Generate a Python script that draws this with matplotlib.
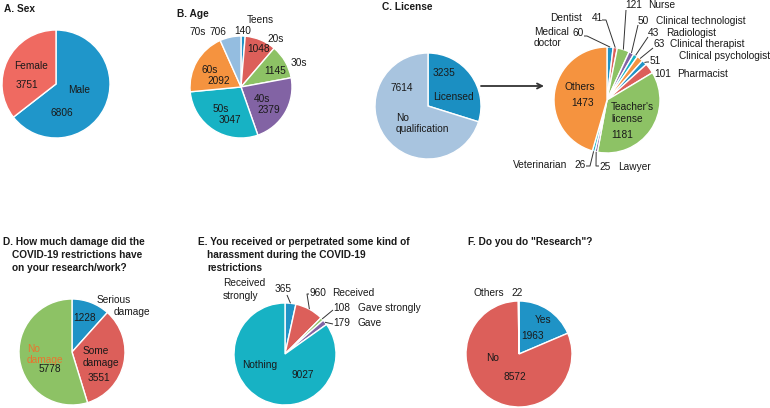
import numpy as np
import matplotlib.pyplot as plt

plt.rcParams['font.family'] = ['Liberation Sans', 'DejaVu Sans']
plt.rcParams['font.size'] = 7.3

W, H = 770, 408

# ---- data ----
sex_labels = ['Male', 'Female']
sex_counts = [6806, 3751]

age_labels = ['Teens', '20s', '30s', '40s', '50s', '60s', '70s']
age_counts = [140, 1048, 1145, 2379, 3047, 2092, 706]

license_labels = ['Licensed', 'No qualification']
license_counts = [3235, 7614]

lic_type_labels = ['Medical doctor', 'Dentist', 'Nurse', 'Clinical technologist', 'Radiologist',
                   'Clinical therapist', 'Clinical psychologist', 'Pharmacist', "Teacher's license",
                   'Lawyer', 'Veterinarian', 'Others']
lic_type_counts = [60, 41, 121, 50, 43, 63, 51, 101, 1181, 25, 26, 1473]

damage_labels = ['Serious damage', 'Some damage', 'No damage']
damage_counts = [1228, 3551, 5778]

harass_labels = ['Received strongly', 'Received', 'Gave strongly', 'Gave', 'Nothing']
harass_counts = [365, 960, 108, 179, 9027]

research_labels = ['Yes', 'No', 'Others']
research_counts = [1963, 8572, 22]

titles = {
    'A': ['A. Sex'],
    'B': ['B. Age'],
    'C': ['C. License'],
    'D': ['D. How much damage did the', 'COVID-19 restrictions have', 'on your research/work?'],
    'E': ['E. You received or perpetrated some kind of', 'harassment during the COVID-19', 'restrictions'],
    'F': ['F. Do you do "Research"?'],
}

palette = ['#1f93c6', '#dc5f5a', '#8dc265', '#8263a4', '#17b2c4', '#f5933f', '#94bde0']
TXT = '#1a1a1a'

fig = plt.figure(figsize=(7.7, 4.08), dpi=100)
ax = fig.add_axes([0, 0, 1, 1])


def pie(vals, cx, cy, r, colors):
    wedges, _ = ax.pie(vals, colors=colors, startangle=90, counterclock=False,
                       center=(cx, H - cy), radius=r, frame=True,
                       wedgeprops=dict(edgecolor='white', linewidth=1.0))
    return wedges


def txt(x, y, s, ha='center', dy=11.5, color=TXT, **kw):
    for i, line in enumerate(str(s).split('\n')):
        ax.text(x, H - (y + i * dy), line, ha=ha, va='center', color=color, **kw)


def title(x, y, lines, indent=9):
    for i, line in enumerate(lines):
        ax.text(x + (indent if i else 0), H - (y + i * 13), line, ha='left', va='center',
                fontweight='bold', color=TXT)


def edge_point(w, frac=1.0):
    a = np.deg2rad((w.theta1 + w.theta2) / 2)
    cx, cy = w.center
    return cx + w.r * frac * np.cos(a), cy + w.r * frac * np.sin(a)


def leader(w, x0, y0, dx=0):
    ex, ey = edge_point(w)
    ax.plot([x0, x0 + dx, ex], [H - y0, H - y0, ey], color='#333333', lw=0.7,
            solid_capstyle='butt')


# ---- A. Sex ----
title(4, 9, titles['A'])
pie(sex_counts, 56, 84, 54, ['#1f96ca', '#ef6a61'])
txt(79, 90, sex_labels[0])
txt(62, 113, sex_counts[0])
txt(31, 66, sex_labels[1])
txt(27, 85, sex_counts[1])

# ---- B. Age ----
title(177, 14, titles['B'])
pie(age_counts, 241, 87, 51, palette)
age_pos = [((260, 20), (243, 31)), ((276, 39), (259, 49)), ((299, 63), (275, 71)),
           ((262, 99), (269, 110)), ((221, 109), (230, 120)), ((210, 70), (219, 81)),
           ((198, 32), (218, 32))]
for lab, n, (p1, p2) in zip(age_labels, age_counts, age_pos):
    txt(*p1, lab)
    txt(*p2, n)

# ---- C. License ----
title(382, 7, titles['C'])
pie(license_counts, 428, 106, 53, ['#1b8fc2', '#a8c4df'])
txt(444, 73, license_counts[0])
txt(453, 97, license_labels[0])
txt(402, 88, license_counts[1])
txt(396, 118, license_labels[1].replace(' ', '\n'), ha='left')

ax.annotate('', xy=(544, H - 86), xytext=(481, H - 86),
            arrowprops=dict(arrowstyle='->', color='#333333', lw=1.3,
                            shrinkA=0, shrinkB=0, mutation_scale=9))

lw_ = pie(lic_type_counts, 607, 100, 53, palette[:6] * 2)
# (label pos, label ha, number pos, leader start, elbow dx)
lic_layout = {
    0: ((534, 32), 'left', (578, 33), (584, 36), 3),
    1: ((582, 18), 'right', (597, 18), (602, 20), 4),
    2: ((648, 5), 'left', (634, 5), (626, 10), 0),
    3: ((656, 21), 'left', (643, 21), (638, 25), 0),
    4: ((666, 33), 'left', (653, 33), (648, 37), 0),
    5: ((670, 44), 'left', (659, 44), (653, 48), 0),
    6: ((679, 56), 'left', (655, 61), (649, 62), -2),
    7: ((677, 74), 'left', (663, 74), None, 0),
    9: ((618, 167), 'left', (605, 167), (599, 166), -3),
    10: ((567, 165), 'right', (580, 165), (586, 166), 4),
}
for i, (lp, ha, npos, ls, dx) in lic_layout.items():
    lab = lic_type_labels[i]
    if i == 0:
        lab = lab.replace(' ', '\n')
    txt(*lp, lab, ha=ha, dy=11)
    txt(*npos, lic_type_counts[i])
    if ls is not None:
        leader(lw_[i], ls[0], ls[1], dx)
txt(580, 87, lic_type_labels[11])
txt(583, 103, lic_type_counts[11])
txt(611, 107, lic_type_labels[8].replace(' ', '\n'), ha='left', dy=12)
txt(611, 135, lic_type_counts[8], ha='left')

# ---- D. Damage ----
title(3, 242, titles['D'])
pie(damage_counts, 72, 352, 53, palette[:3])
w1, w2 = damage_labels[0].split(' ')
txt(97, 300, w1, ha='left')
txt(114, 312, w2, ha='left')
txt(85, 318, damage_counts[0])
txt(83, 351, damage_labels[1].replace(' ', '\n'), ha='left', dy=12)
txt(99, 378, damage_counts[1])
txt(27, 349, damage_labels[2].replace(' ', '\n'), ha='left', color='#e8762f', dy=11)
txt(50, 369, damage_counts[2])

# ---- E. Harassment ----
title(198, 242, titles['E'])
hw = pie(harass_counts, 285, 354, 51, [palette[0], palette[1], palette[2], palette[3], palette[4]])
txt(223, 283, harass_labels[0].replace(' ', '\n'), ha='left', dy=13)
txt(283, 289, harass_counts[0])
leader(hw[0], 287, 295)
txt(318, 293, harass_counts[1])
txt(332, 293, harass_labels[1], ha='left')
leader(hw[1], 309, 294, -2)
txt(342, 308, harass_counts[2])
txt(358, 308, harass_labels[2], ha='left')
leader(hw[2], 333, 310)
txt(342, 323, harass_counts[3])
txt(358, 323, harass_labels[3], ha='left')
leader(hw[3], 333, 324)
txt(260, 365, harass_labels[4])
txt(303, 375, harass_counts[4])

# ---- F. Research ----
title(468, 242, titles['F'])
pie(research_counts, 519, 354, 53, [palette[0], palette[1], palette[2]])
txt(543, 320, research_labels[0])
txt(533, 336, research_counts[0])
txt(493, 358, research_labels[1])
txt(515, 377, research_counts[1])
txt(473, 293, research_labels[2], ha='left')
txt(517, 293, research_counts[2])

ax.set_xlim(0, W)
ax.set_ylim(0, H)
ax.set_aspect('equal')
ax.axis('off')
fig.savefig('out.png', dpi=100, facecolor='white')
